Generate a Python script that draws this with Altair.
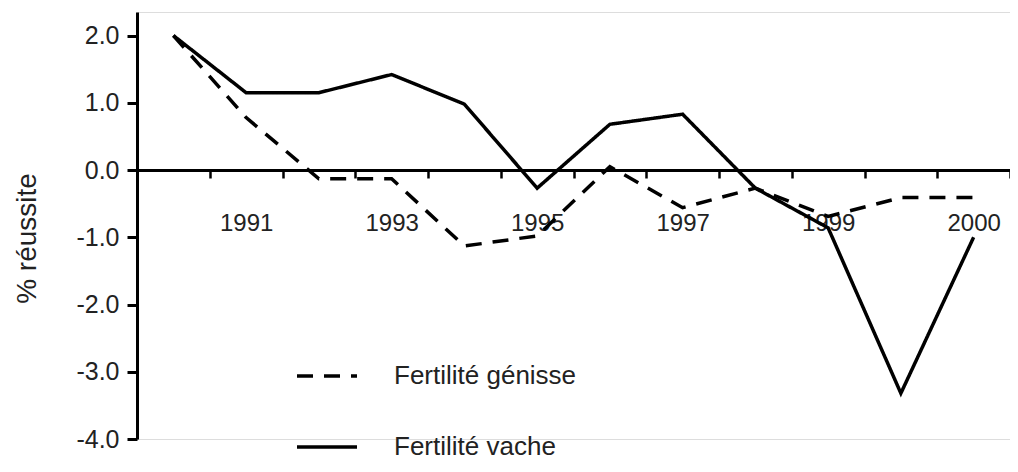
import altair as alt
import pandas as pd

positions = list(range(1, 13))
tick_labels = ["", "1991", "", "1993", "", "1995", "", "1997", "", "1999", "", "2000"]
vache = [2.0, 1.15, 1.15, 1.42, 0.98, -0.27, 0.68, 0.83, -0.27, -0.86, -3.32, -1.0]
genisse = [2.0, 0.78, -0.13, -0.13, -1.13, -0.98, 0.05, -0.56, -0.27, -0.69, -0.41, -0.41]
series_names = ["Fertilité génisse", "Fertilité vache"]
y_ticks = [-4, -3, -2, -1, 0, 1, 2]

rows = []
for p, g, v in zip(positions, genisse, vache):
    rows.append({"pos": p, "serie": series_names[0], "val": g})
    rows.append({"pos": p, "serie": series_names[1], "val": v})
df = pd.DataFrame(rows)

label_js = "[" + ",".join(f"'{t}'" for t in tick_labels) + "]"
FONT = "Liberation Sans"
TXT = "#222222"

chart = alt.Chart(df).mark_line(color="black", strokeWidth=3.5).encode(
    x=alt.X(
        "pos:O",
        bandPosition=0.5,
        scale=alt.Scale(type="band", paddingInner=0, paddingOuter=0),
        axis=alt.Axis(
            title=None, orient="bottom", offset=-269, tickBand="extent",
            labelExpr=f"{label_js}[datum.value-1]", labelAngle=0,
            labelFontSize=24, labelFont=FONT, labelColor=TXT, labelPadding=33,
            domainColor="black", domainWidth=3, tickColor="black", tickWidth=2.5,
            tickSize=8, grid=False,
        ),
    ),
    y=alt.Y(
        "val:Q",
        scale=alt.Scale(domain=[-4, 2.35], nice=False, zero=False),
        axis=alt.Axis(
            values=y_ticks, format=".1f", labelExpr="replace(datum.label, '\u2212', '-')",
            title="% réussite",
            titleFontSize=28, titleFont=FONT, titleFontWeight="normal", titleColor=TXT,
            titleX=-102, titleY=226, titleBaseline="alphabetic", titleAngle=270,
            labelFontSize=25, labelFont=FONT, labelColor=TXT,
            labelPadding=8, domainColor="black", domainWidth=3, tickColor="black",
            tickWidth=3, tickSize=10, grid=False,
        ),
    ),
    strokeDash=alt.StrokeDash(
        "serie:N",
        scale=alt.Scale(domain=series_names, range=[[16, 11], [1, 0]]),
        legend=alt.Legend(
            title=None, orient="none", legendX=158, legendY=332,
            symbolType="stroke", symbolSize=3600, symbolStrokeWidth=3.5,
            symbolStrokeColor="black", labelFontSize=26, labelFont=FONT,
            labelColor=TXT, labelOffset=35, rowPadding=26, padding=0, labelLimit=400,
        ),
    ),
).properties(
    width=873, height=427,
    autosize=alt.AutoSizeParams(type="none"),
    padding={"left": 129, "top": 4, "right": 0, "bottom": 25},
).configure_view(stroke=None).configure(font=FONT)

chart.save("out.html", embed_options={"renderer": "svg", "actions": False})
